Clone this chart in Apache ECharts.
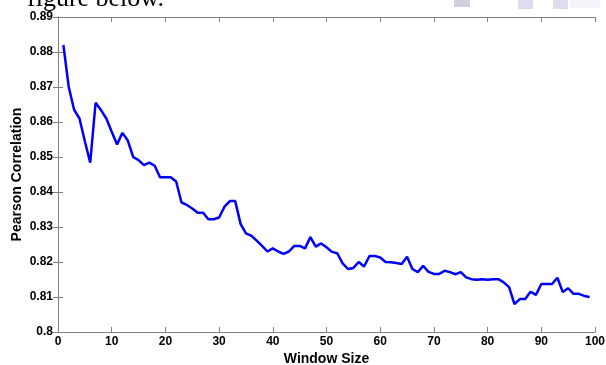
<!DOCTYPE html>
<html>
<head>
<meta charset="utf-8">
<script src="https://cdn.jsdelivr.net/npm/echarts@6/dist/echarts.min.js"></script>
<style>
html,body{margin:0;padding:0;background:#fff;}
#chart{width:606px;height:365px;}
</style>
</head>
<body>
<div id="chart"></div>
<script>
const windowSizes = [1,2,3,4,5,6,7,8,9,10,11,12,13,14,15,16,17,18,19,20,21,22,23,24,25,26,27,28,29,30,31,32,33,34,35,36,37,38,39,40,41,42,43,44,45,46,47,48,49,50,51,52,53,54,55,56,57,58,59,60,61,62,63,64,65,66,67,68,69,70,71,72,73,74,75,76,77,78,79,80,81,82,83,84,85,86,87,88,89,90,91,92,93,94,95,96,97,98,99];
const pearson = [
0.8820,0.8700,0.8635,0.8610,0.8545,0.8484,0.8655,0.8634,0.8610,0.8572,
0.8536,0.8569,0.8547,0.8500,0.8491,0.8477,0.8484,0.8475,0.8442,0.8442,
0.8442,0.8430,0.8370,0.8363,0.8353,0.8341,0.8341,0.8322,0.8322,0.8327,
0.8358,0.8374,0.8374,0.8309,0.8282,0.8275,0.8261,0.8246,0.8230,0.8239,
0.8230,0.8223,0.8230,0.8246,0.8246,0.8239,0.8271,0.8244,0.8253,0.8242,
0.8229,0.8225,0.8196,0.8180,0.8183,0.8200,0.8187,0.8217,0.8217,0.8213,
0.8200,0.8199,0.8197,0.8194,0.8215,0.8180,0.8171,0.8189,0.8172,0.8166,
0.8166,0.8175,0.8171,0.8165,0.8171,0.8156,0.8151,0.8149,0.8151,0.8149,
0.8151,0.8151,0.8142,0.8128,0.8080,0.8094,0.8094,0.8115,0.8106,0.8137,
0.8137,0.8137,0.8155,0.8114,0.8125,0.8109,0.8109,0.8103,0.8100
];
const xTicks = [0,10,20,30,40,50,60,70,80,90,100];
const yTickLabels = ['0.8','0.81','0.82','0.83','0.84','0.85','0.86','0.87','0.88','0.89'];
const xName = 'Window Size';
const yName = 'Pearson Correlation';

const chart = echarts.init(document.getElementById('chart'), null, {renderer:'canvas'});
const axisColor = '#808080';
const font = 'Liberation Sans';
const yMin = 0.8, yMax = 0.89, yStep = 0.01;
function yLabel(v){
  const i = Math.round((v - yMin)/yStep);
  return yTickLabels[i] !== undefined ? yTickLabels[i] : '';
}
const common = {
  axisLine:{show:true, lineStyle:{color:axisColor, width:1}},
  axisTick:{show:true, inside:true, length:5, lineStyle:{color:axisColor}},
  splitLine:{show:false}
};
chart.setOption({
  animation:false,
  backgroundColor:'#ffffff',
  graphic:[
    {type:'text', left:27, top:-14, z:-1, style:{text:'figure below.', font:'26px "Liberation Serif"', fill:'#000'}},
    {type:'rect', shape:{x:454,y:0,width:16,height:7}, z:-1, style:{fill:'#d2d0de'}},
    {type:'rect', shape:{x:518,y:0,width:15,height:9}, z:-1, style:{fill:'#e0dcf0'}},
    {type:'rect', shape:{x:553,y:0,width:15,height:9}, z:-1, style:{fill:'#e0dcf0'}},
    {type:'rect', shape:{x:570,y:0,width:30,height:8}, z:-1, style:{fill:'#f4f3f9'}}
  ],
  grid:{left:58, right:11, top:17, bottom:33, containLabel:false, outerBoundsMode:'none'},
  xAxis:[
    Object.assign({
      type:'value', min:0, max:100, interval:10, position:'bottom',
      name:xName, nameLocation:'middle', nameGap:20, nameMoveOverlap:false,
      nameTextStyle:{fontFamily:font, fontWeight:'bold', fontSize:14, color:'#000', verticalAlign:'top'},
      axisLabel:{fontFamily:font, fontWeight:'bold', fontSize:12, color:'#000', margin:4,
        formatter:function(v){ return xTicks.indexOf(v) >= 0 ? String(v) : ''; }}
    }, common),
    Object.assign({
      type:'value', min:0, max:100, interval:10, position:'top', axisLabel:{show:false}
    }, common)
  ],
  yAxis:[
    Object.assign({
      type:'value', min:yMin, max:yMax, interval:yStep, position:'left',
      name:yName, nameLocation:'middle', nameGap:34, nameMoveOverlap:false,
      nameTextStyle:{fontFamily:font, fontWeight:'bold', fontSize:14, color:'#000'},
      axisLabel:{fontFamily:font, fontWeight:'bold', fontSize:12, color:'#000', margin:5, formatter:yLabel}
    }, common),
    Object.assign({
      type:'value', min:yMin, max:yMax, interval:yStep, position:'right', axisLabel:{show:false}
    }, common)
  ],
  series:[{
    type:'line',
    data: windowSizes.map((x,i)=>[x, pearson[i]]),
    showSymbol:false, symbol:'none',
    lineStyle:{color:'#0000ff', width:2.5},
    z:3
  }]
});
</script>
</body>
</html>
